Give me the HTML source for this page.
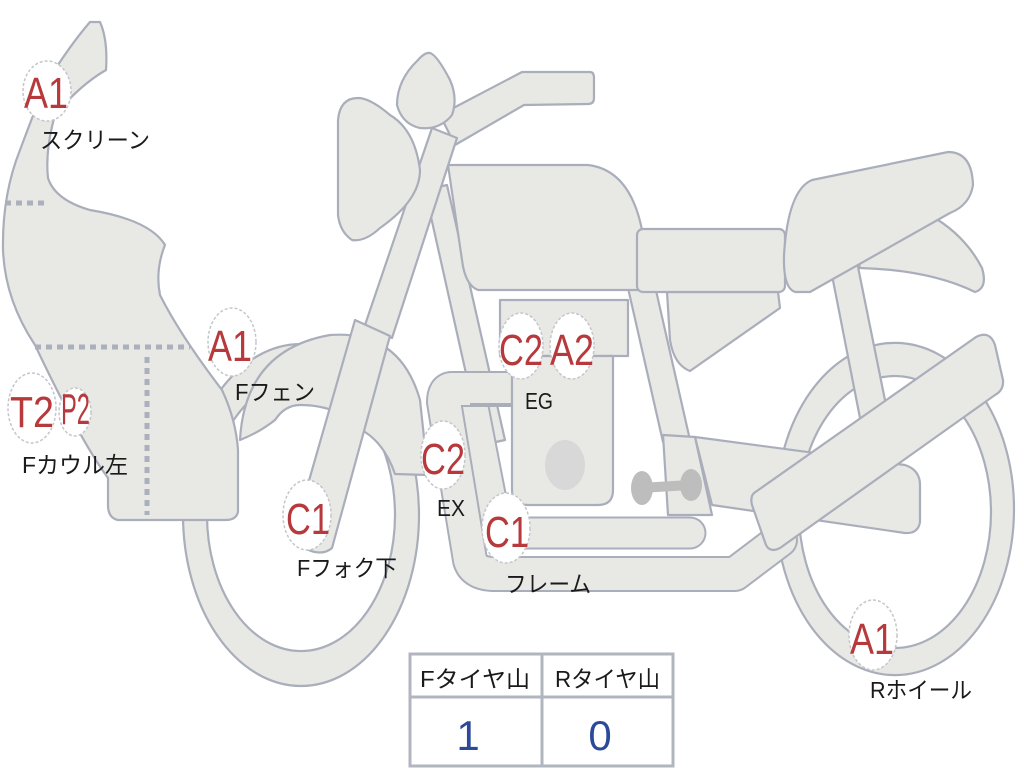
<!DOCTYPE html>
<html><head><meta charset="utf-8"><style>
html,body{margin:0;padding:0;background:#fff;width:1024px;height:768px;overflow:hidden}
svg{display:block}
.s{fill:#e8e8e5;stroke:#a9aeba;stroke-width:2.2;stroke-linejoin:round}
.to{fill:none;stroke:#a9aeba;stroke-linejoin:round;stroke-linecap:round}
.ti{fill:none;stroke:#e8e8e5;stroke-linejoin:round;stroke-linecap:round}
.b{fill:#fff;stroke:#c4c6cc;stroke-width:1.5;stroke-dasharray:3 2}
.bt{fill:#b7393c;font-family:"Liberation Sans",sans-serif;font-size:44px}
.lb{fill:#1a1a1a;font-family:"Liberation Sans","Noto Sans CJK JP",sans-serif;font-size:23px}
.dot{stroke:#aab0bc;stroke-width:5;stroke-dasharray:6 5;fill:none}
</style></head><body>
<svg width="1024" height="768" viewBox="0 0 1024 768">
<!-- wheels -->
<path class="s" fill-rule="evenodd" d="M183,515 a118,171 0 1,0 236,0 a118,171 0 1,0 -236,0 Z M207,515 a94,136 0 1,1 188,0 a94,136 0 1,1 -188,0 Z"/>
<path class="s" fill-rule="evenodd" d="M776,509 a119,166 0 1,0 238,0 a119,166 0 1,0 -238,0 Z M799,512 a96,136 0 1,1 192,0 a96,136 0 1,1 -192,0 Z"/>
<!-- front fender -->
<path class="s" d="M240,440 Q245,350 330,335 Q400,330 420,400 L428,475 L395,474 Q385,445 365,432 Q340,405 300,405 Q285,405 275,420 Q260,432 240,440 Z"/>
<!-- fairing -->
<path class="s" d="M100,22 Q108,40 106,70 Q80,85 55,115 Q45,150 48,178 Q55,200 90,210 Q150,220 165,245 Q155,270 160,295 Q180,335 222,390 Q236,420 238,450 L238,512 Q236,520 226,520 L118,520 Q108,518 108,505 L108,478 Q80,440 35,345 Q5,300 3,250 Q2,195 20,150 Q35,110 45,85 Q70,45 90,22 Z"/>
<line class="dot" x1="5" y1="203" x2="48" y2="203"/>
<line class="dot" x1="35" y1="347" x2="190" y2="347"/>
<line class="dot" x1="147" y1="357" x2="147" y2="515"/>
<!-- frame downtube from head -->
<path class="s" d="M425,190 L447,185 L505,440 L482,445 Z"/>
<!-- rear frame tube -->
<path class="s" d="M628,288 L655,286 L690,440 L663,442 Z"/>
<!-- rear strut -->
<path class="s" d="M830,265 L857,262 L887,410 L860,418 Z"/>
<!-- tail fender -->
<path class="s" d="M860,268 Q930,270 975,292 Q988,288 982,268 Q965,235 930,215 L850,235 Z"/>
<!-- swingarm -->
<path class="s" d="M695,437 L905,465 Q920,470 920,485 L920,522 Q918,534 905,533 L712,505 Z"/>
<path class="s" d="M663,435 L695,437 L712,515 L668,515 Z"/>
<!-- inner pipe -->
<path class="to" stroke-width="33" d="M470,392 L494,515 Q498,533 518,533 L690,533"/>
<path class="ti" stroke-width="29" d="M470,392 L494,515 Q498,533 518,533 L690,533"/>
<!-- exhaust pipe -->
<path class="to" stroke-width="36" d="M520,389 L452,389 Q444,389 444,402 L470,560 Q474,574 495,574 L735,574 L780,540"/>
<path class="ti" stroke-width="32" d="M520,389 L452,389 Q444,389 444,402 L470,560 Q474,574 495,574 L735,574 L780,540"/>
<line x1="470" y1="404" x2="512" y2="404" stroke="#a9aeba" stroke-width="2"/>
<!-- engine -->
<rect class="s" x="500" y="300" width="128" height="56"/>
<path class="s" d="M512,356 L613,356 L613,490 Q613,505 598,505 L528,505 Q512,505 512,490 Z"/>
<ellipse cx="565" cy="465" rx="20" ry="25" fill="#d8d8d8"/>
<!-- footpeg -->
<line x1="640" y1="488" x2="690" y2="485" stroke="#bdbdbd" stroke-width="10"/>
<ellipse cx="642" cy="488" rx="11" ry="17" fill="#bdbdbd"/>
<ellipse cx="691" cy="485" rx="11" ry="16" fill="#bdbdbd"/>
<!-- side cover -->
<path class="s" d="M667,292 L778,292 L780,308 L690,371 Q674,365 670,340 Z"/>
<!-- tank -->
<path class="s" d="M448,165 L588,165 Q630,170 642,230 Q648,270 647,290 L478,290 Q465,285 462,260 Z"/>
<!-- side panel -->
<rect class="s" x="637" y="229" width="148" height="63" rx="6"/>
<!-- seat -->
<path class="s" d="M795,292 Q783,288 784,255 Q788,190 812,180 L948,152 Q972,152 973,185 Q970,205 950,213 L810,292 Z"/>
<!-- muffler -->
<path class="s" d="M754,493 L976,337 Q990,330 995,345 L1003,380 Q1004,390 995,395 L780,548 Q770,553 766,545 L752,505 Q750,497 754,493 Z"/>
<!-- handlebar -->
<path class="s" d="M440,115 L522,72 L590,72 Q594,72 594,78 L594,98 Q594,104 588,104 L524,105 L455,145 Z"/>
<!-- fork -->
<path class="s" d="M365,325 L432,128 L457,138 L392,338 Z"/>
<path class="s" d="M292,540 L355,320 L390,336 L332,548 Q318,560 292,540 Z"/>
<!-- headlight -->
<path class="s" d="M358,98 Q370,98 390,115 Q415,130 420,170 Q420,200 380,228 Q365,242 352,240 Q340,232 338,215 L338,120 Q340,98 358,98 Z"/>
<!-- meter -->
<path class="s" d="M430,53 Q437,55 450,80 Q458,98 452,115 Q440,130 420,128 Q402,124 397,105 Q397,80 418,60 Q425,52 430,53 Z"/>
<!-- badges -->
<ellipse class="b" cx="47" cy="91" rx="24" ry="30"/><text class="bt" x="24" y="108" textLength="44" lengthAdjust="spacingAndGlyphs">A1</text>
<ellipse class="b" cx="232" cy="342" rx="24" ry="34"/><text class="bt" x="208" y="361" textLength="44" lengthAdjust="spacingAndGlyphs">A1</text>
<ellipse class="b" cx="32" cy="408" rx="24" ry="35"/><text class="bt" x="10" y="427" textLength="44" lengthAdjust="spacingAndGlyphs">T2</text>
<ellipse class="b" cx="75" cy="412" rx="16" ry="24"/><text class="bt" x="61" y="424" font-size="28" textLength="29" lengthAdjust="spacingAndGlyphs">P2</text>
<ellipse class="b" cx="521" cy="346" rx="22" ry="33"/><text class="bt" x="499" y="365" textLength="44" lengthAdjust="spacingAndGlyphs">C2</text>
<ellipse class="b" cx="572" cy="346" rx="22" ry="33"/><text class="bt" x="550" y="365" textLength="44" lengthAdjust="spacingAndGlyphs">A2</text>
<ellipse class="b" cx="443" cy="455" rx="22" ry="34"/><text class="bt" x="421" y="474" textLength="44" lengthAdjust="spacingAndGlyphs">C2</text>
<ellipse class="b" cx="307" cy="515" rx="24" ry="35"/><text class="bt" x="286" y="534" textLength="44" lengthAdjust="spacingAndGlyphs">C1</text>
<ellipse class="b" cx="506" cy="528" rx="24" ry="35"/><text class="bt" x="485" y="547" textLength="44" lengthAdjust="spacingAndGlyphs">C1</text>
<ellipse class="b" cx="873" cy="635" rx="24" ry="35"/><text class="bt" x="850" y="654" textLength="44" lengthAdjust="spacingAndGlyphs">A1</text>
<!-- labels -->
<text class="lb" x="40" y="148" textLength="110" lengthAdjust="spacingAndGlyphs">スクリーン</text>
<text class="lb" x="235" y="400" textLength="80" lengthAdjust="spacingAndGlyphs">Fフェン</text>
<text class="lb" x="22" y="473" textLength="106" lengthAdjust="spacingAndGlyphs">Fカウル左</text>
<text class="lb" x="297" y="576" textLength="100" lengthAdjust="spacingAndGlyphs">Fフォク下</text>
<text class="lb" x="525" y="409" textLength="28" lengthAdjust="spacingAndGlyphs">EG</text>
<text class="lb" x="437" y="516" textLength="28" lengthAdjust="spacingAndGlyphs">EX</text>
<text class="lb" x="505" y="592" textLength="86" lengthAdjust="spacingAndGlyphs">フレーム</text>
<text class="lb" x="870" y="698" textLength="102" lengthAdjust="spacingAndGlyphs">Rホイール</text>
<!-- table -->
<rect x="410" y="654" width="263" height="112" fill="#fff" stroke="#b0b5c0" stroke-width="3"/>
<line x1="410" y1="697" x2="673" y2="697" stroke="#b0b5c0" stroke-width="3"/>
<line x1="542" y1="654" x2="542" y2="766" stroke="#b0b5c0" stroke-width="3"/>
<text class="lb" x="420" y="687" textLength="110" lengthAdjust="spacingAndGlyphs">Fタイヤ山</text>
<text class="lb" x="555" y="687" textLength="105" lengthAdjust="spacingAndGlyphs">Rタイヤ山</text>
<text x="468" y="750" font-family="Liberation Sans,sans-serif" font-size="42" fill="#2b4a9a" text-anchor="middle">1</text>
<text x="600" y="750" font-family="Liberation Sans,sans-serif" font-size="42" fill="#2b4a9a" text-anchor="middle">0</text>
</svg>
</body></html>
